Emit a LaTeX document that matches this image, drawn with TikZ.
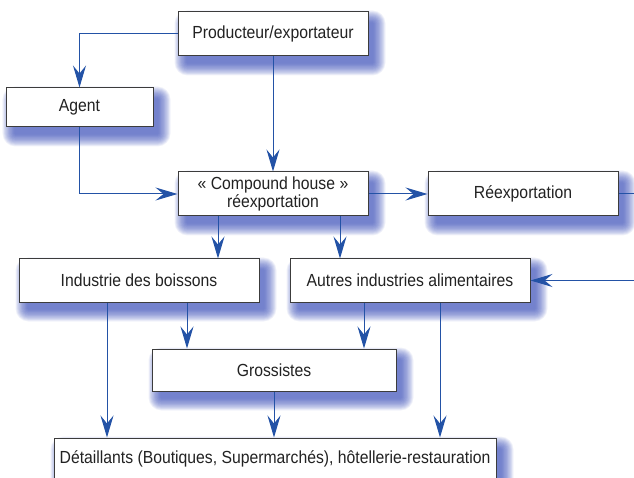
\documentclass[tikz,border=0pt]{standalone}
\usepackage{fontspec}
\setmainfont{Liberation Sans}[FakeStretch=0.9]
\usetikzlibrary{arrows.meta,calc}
\pgfdeclarelayer{background}
\pgfsetlayers{background,main}
\definecolor{linec}{HTML}{2352A6}
\definecolor{boxc}{HTML}{3C3C3C}
\definecolor{glowc}{HTML}{3B4FB8}
\definecolor{textc}{HTML}{222222}
\newcommand\glowbox[1]{%
  \begin{pgfonlayer}{background}
  \foreach \r in {0,...,15}{
    \fill[glowc, opacity=0.075, rounded corners=0.8*\r pt+1pt]
      ($(#1.north west)+(7pt-0.8*\r pt+2pt,-9pt+0.8*\r pt-2pt)$) rectangle ($(#1.south east)+(7pt+0.8*\r pt-2pt,-9pt-0.8*\r pt+2pt)$);
  }
  \end{pgfonlayer}}
\begin{document}
\begin{tikzpicture}[x=1pt,y=-1pt,
  box/.style={draw=boxc, fill=white, line width=1pt, inner sep=0pt, text=textc,
    font=\fontsize{17.5}{18.5}\selectfont, align=center},
  arr/.style={draw=linec, line width=1pt, -{Stealth[length=22pt,width=13pt,inset=8pt]}},
  ln/.style={draw=linec, line width=1pt}]
\useasboundingbox (0,0) rectangle (634,478);
\clip (0,0) rectangle (634,478);
\node[box, minimum width=190pt, minimum height=44pt] (prod) at (273,34) {Producteur/exportateur};
\node[box, minimum width=147pt, minimum height=39pt] (agent) at (79.5,107.5) {Agent};
\node[box, minimum width=190pt, minimum height=44pt] (comp) at (273,194) {« Compound house »\\réexportation};
\node[box, minimum width=190pt, minimum height=44pt] (reex) at (523,194) {Réexportation};
\node[box, minimum width=240pt, minimum height=43pt] (indus) at (139,280.5) {Industrie des boissons};
\node[box, minimum width=240pt, minimum height=43pt] (autres) at (410,280.5) {Autres industries alimentaires};
\node[box, minimum width=244pt, minimum height=42pt] (gross) at (274,370) {Grossistes};
\node[box, minimum width=442pt, minimum height=42pt] (detail) at (275,459) {Détaillants (Boutiques, Supermarchés), hôtellerie-restauration};
\foreach \n in {prod,agent,comp,reex,indus,autres,gross,detail}{\glowbox{\n}}
\coordinate (eR) at (634,194);
\coordinate (eA) at (634,280.5);
\coordinate (c1) at ([xshift=-55pt]comp.south);
\coordinate (c2) at ([xshift=67pt]comp.south);
\coordinate (i1) at ([xshift=-32pt]indus.south);
\coordinate (i2) at ([xshift=48pt]indus.south);
\coordinate (a1) at ([xshift=-46pt]autres.south);
\coordinate (a2) at ([xshift=30pt]autres.south);
\draw[arr] (prod.west) -| (agent.north);
\draw[arr] (prod.south) -- (comp.north);
\draw[arr] (agent.south) |- (comp.west);
\draw[arr] (comp.east) -- (reex.west);
\draw[ln] (reex.east) -- (eR);
\draw[arr] (eA) -- (autres.east);
\draw[arr] (c1) -- (c1 |- indus.north);
\draw[arr] (c2) -- (c2 |- autres.north);
\draw[arr] (i1) -- (i1 |- detail.north);
\draw[arr] (i2) -- (i2 |- gross.north);
\draw[arr] (a1) -- (a1 |- gross.north);
\draw[arr] (a2) -- (a2 |- detail.north);
\draw[arr] (gross.south) -- (gross.south |- detail.north);
\end{tikzpicture}
\end{document}
